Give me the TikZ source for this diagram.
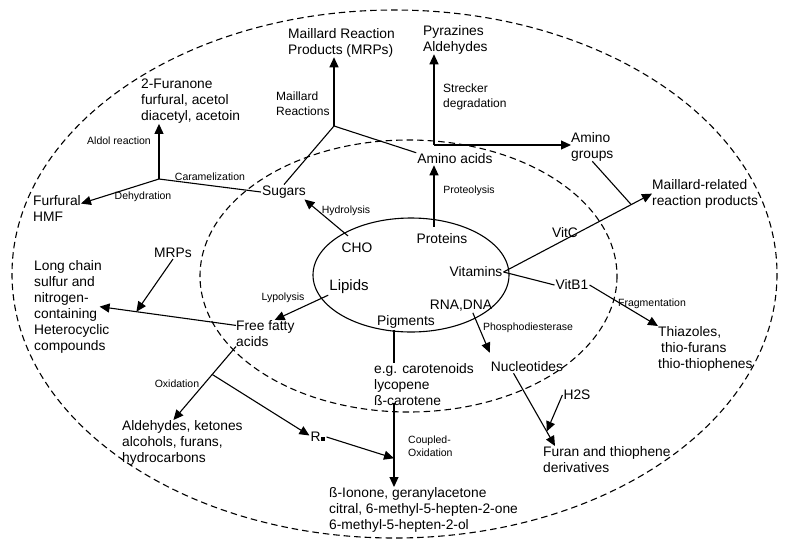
\documentclass[tikz,border=0pt]{standalone}
\usepackage{fontspec}
\setmainfont{Liberation Sans}
\usetikzlibrary{arrows.meta}

\begin{document}
\begin{tikzpicture}[x=1pt,y=-1pt,
    lbl/.style={inner sep=1pt,font=\fontsize{13.8}{16}\selectfont},
    blk/.style={inner sep=0pt,anchor=north west,align=left,font=\fontsize{13.8}{16}\selectfont},
    tag/.style={inner sep=1pt,font=\fontsize{10.5}{12.5}\selectfont},
    mtag/.style={inner sep=0pt,anchor=north west,align=left,font=\fontsize{12}{14.5}\selectfont},
    zone/.style={dash pattern=on 6.5pt off 4pt,line width=1.1pt},
    flow/.style={-{Triangle[length=10pt,width=9pt]},line width=1.1pt},
    link/.style={line width=1.1pt}]
    \useasboundingbox (0,0) rectangle (786,552);
    \draw[zone] (394.5,274) ellipse [x radius=382.5, y radius=264];
    \draw[zone] (408.5,276) ellipse [x radius=208.5, y radius=136];
    \draw[link] (411,275) ellipse [x radius=98, y radius=57];

    \node[lbl] (cho) at (357,248) {CHO};
    \node[lbl] (prot) at (442,239) {Proteins};
    \node[lbl] (vit) at (476,272) {Vitamins};
    \node[lbl,font=\fontsize{15}{18}\selectfont] (lip) at (349,287) {Lipids};
    \node[lbl] (rna) at (461,306) {RNA,DNA};
    \node[lbl] (pig) at (406,322) {Pigments};
    \node[lbl] (sugars) at (284,192) {Sugars};
    \node[lbl] (amino) at (455,159) {Amino acids};
    \node[lbl] (vitc) at (565,233) {VitC};
    \node[lbl] (vitb) at (572,285) {VitB1};
    \node[lbl] (nucl) at (527,367) {Nucleotides};
    \node[lbl] (hts) at (577,395) {H2S};
    \node[lbl] (rdot) at (318,437) {R\kern.8pt\raisebox{1pt}{\rule{4pt}{4pt}}};
    \node[lbl] (mrps) at (173,253) {MRPs};

    \node[blk] (mrp) at (288,28) {Maillard Reaction\\Products (MRPs)};
    \node[blk] (pyr) at (423,25) {Pyrazines\\Aldehydes};
    \node[blk] (furanone) at (141,79) {2-Furanone\\furfural, acetol\\diacetyl, acetoin};
    \node[blk] (furfural) at (33,195) {Furfural\\HMF};
    \node[blk] (aminogr) at (571,132) {Amino\\groups};
    \node[blk] (mrrp) at (652,179) {Maillard-related\\reaction products};
    \node[blk] (longch) at (34,260) {Long chain\\sulfur and\\nitrogen-\\containing\\Heterocyclic\\compounds};
    \node[blk] (ffa) at (236,320) {Free fatty\\acids};
    \node[blk] (thia) at (658,326) {Thiazoles,\\\hspace*{3pt}thio-furans\\thio-thiophenes};
    \node[blk] (carot) at (374,363) {e.g. carotenoids\\lycopene\\ß-carotene};
    \node[blk] (furan) at (543,446) {Furan and thiophene\\derivatives};
    \node[blk] (ald) at (122,420) {Aldehydes, ketones\\alcohols, furans,\\hydrocarbons};
    \node[blk] (ionone) at (329,487) {ß-Ionone, geranylacetone\\citral, 6-methyl-5-hepten-2-one\\6-methyl-5-hepten-2-ol};

    \node[tag] (hydro) at (346,211) {Hydrolysis};
    \node[tag] (caram) at (210,177) {Caramelization};
    \node[tag] (dehyd) at (143,197) {Dehydration};
    \node[tag] (aldol) at (119,141) {Aldol reaction};
    \node[mtag] (mreac) at (276,92) {Maillard\\Reactions};
    \node[mtag] (streck) at (443,84) {Strecker\\degradation};
    \node[tag] (proteo) at (469,191) {Proteolysis};
    \node[tag] (fragm) at (652,304) {Fragmentation};
    \node[tag] (phosph) at (528,328) {Phosphodiesterase};
    \node[tag] (lypo) at (283,298) {Lypolysis};
    \node[tag] (oxid) at (177,384) {Oxidation};
    \node[tag,anchor=north west,align=left,inner sep=0pt] (coupl) at (408,436) {Coupled-\\Oxidation};

    \coordinate (mjun) at (334,126);
    \coordinate (cjun) at (159,179);
    \coordinate (ajun) at (434,145);
    \coordinate (pgx) at ([xshift=-12pt]pig.south);

    \draw[flow] ([xshift=-9pt,yshift=6pt]cho.north) -- (sugars.-20);
    \draw[link] (sugars.north) -- (mjun);
    \draw[flow] (mjun) -- (mjun |- mrp.south);
    \draw[link] (mjun) -- (amino.north west);
    \draw[link] (sugars.west) -- (cjun);
    \draw[flow] (cjun) -- (furfural.11);
    \draw[flow] (cjun) -- (cjun |- furanone.south);
    \draw[flow] (ajun) -- (ajun |- pyr.south);
    \draw[flow] (ajun) -- (ajun -| aminogr.west);
    \draw[flow] (ajun |- prot.north) ++(0,-6) -- (ajun |- amino.south);
    \draw[flow] (vit.east) -- coordinate[pos=.86] (vcj) (mrrp.west);
    \draw[link] (aminogr.south) -- (vcj);
    \draw[link] (vit.east) -- (vitb.west);
    \draw[flow] (vitb.east) -- (thia.north west);
    \draw[flow] (rna.-30) -- ([yshift=8pt]nucl.north west);
    \draw[flow] (nucl.-155) -- coordinate[pos=.8] (hsj) ([xshift=12pt]furan.north west);
    \draw[flow] (hts.west) -- (hsj);
    \draw[flow] (lip.south west) -- (ffa.55);
    \draw[flow] (ffa.165) -- coordinate[pos=.73] (mj) ([xshift=-10pt]longch.east);
    \draw[flow] (mrps.south) -- (mj);
    \draw[flow] (ffa.south west) -- coordinate[pos=.38] (oxj) ([xshift=-9pt]ald.north);
    \draw[flow] (oxj) -- (rdot.170);
    \draw[link] (pgx) -- (pgx |- carot.north);
    \draw[flow] (pgx |- carot.south) ++(0,-3) -- coordinate[pos=.66] (coj) (pgx |- ionone.north);
    \draw[flow] (rdot.east) -- (coj);
\end{tikzpicture}
\end{document}
